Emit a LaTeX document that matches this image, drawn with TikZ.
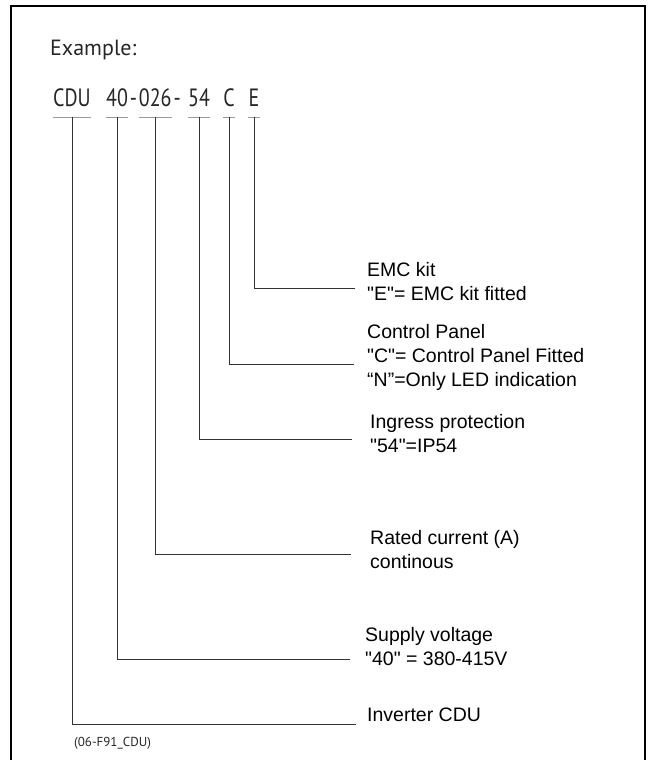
\documentclass[tikz,border=0pt]{standalone}
\usepackage{fontspec}
\setmainfont{Liberation Sans}
\newfontfamily\lblfont{Liberation Sans}
\newfontfamily\codefont[FakeStretch=0.8]{PT Sans}
\newfontfamily\headfont{PT Sans}
\usetikzlibrary{calc}

\begin{document}
\begin{tikzpicture}[
    x=1pt, y=-1pt,
    every node/.style={inner sep=0pt},
    code/.style={font=\codefont\fontsize{25}{25}\selectfont, text=black!85, anchor=base, text depth=0pt},
    stub/.style={gray!80, line width=1.2pt},
    lead/.style={black!80, line width=0.8pt},
    lbl/.style={font=\lblfont\fontsize{19.5}{24}\selectfont, align=left, anchor=west},
    frame/.style={line width=2.5pt}
  ]
  \useasboundingbox (0,0) rectangle (650,760);

  % Frame, open at the bottom
  \draw[frame] (11,775) -- (11,6) -- (645,6) -- (645,775);

  % Heading and type code
  \node[font=\headfont\fontsize{22}{22}\selectfont, text=black!85, anchor=base west] (head) at (50,56) {Example:};
  \node[code] (cCDU) at (72,106) {CDU};
  \node[code] (c40) at (117,106) {40};
  \node[code, anchor=base west] (h1) at ([xshift=1.5pt]c40.base east) {-};
  \node[code, anchor=base west] (c026) at ([xshift=1.5pt]h1.base east) {026};
  \node[code, anchor=base west] (h2) at ([xshift=1.5pt]c026.base east) {-};
  \node[code] (c54) at (199,106) {54};
  \node[code] (cC) at (229,106) {C};
  \node[code] (cE) at (254,106) {E};

  % Explanations
  \node[lbl] (lE) at (367,281.5) {EMC kit\\"E"= EMC kit fitted};
  \node[lbl] (lC) at (367,357.5) {Control Panel\\"C"= Control Panel Fitted\\“N”=Only LED indication};
  \node[lbl] (l54) at (370,434) {Ingress protection\\"54"=IP54};
  \node[lbl] (l026) at (370,549.5) {Rated current (A)\\continous};
  \node[lbl] (l40) at (365,647) {Supply voltage\\"40" = 380-415V};
  \node[lbl] (lCDU) at (367,715) {Inverter CDU};

  % Underlines and leader lines
  \foreach \c/\y/\ex in {cE/288/355, cC/364/354, c54/439/352, c026/554/351, c40/659/350, cCDU/724/356} {
    \coordinate (e\c) at (\ex,\y);
    \draw[stub] ([yshift=-11pt]\c.south west) -- ([yshift=-11pt]\c.south east);
    \draw[lead] ([yshift=-11pt]\c.south) |- (e\c);
  }

  % Figure reference
  \node[font=\headfont\fontsize{13}{13}\selectfont, text=black!85, anchor=west] (fig) at (74,743) {(06-F91\_CDU)};
\end{tikzpicture}
\end{document}
